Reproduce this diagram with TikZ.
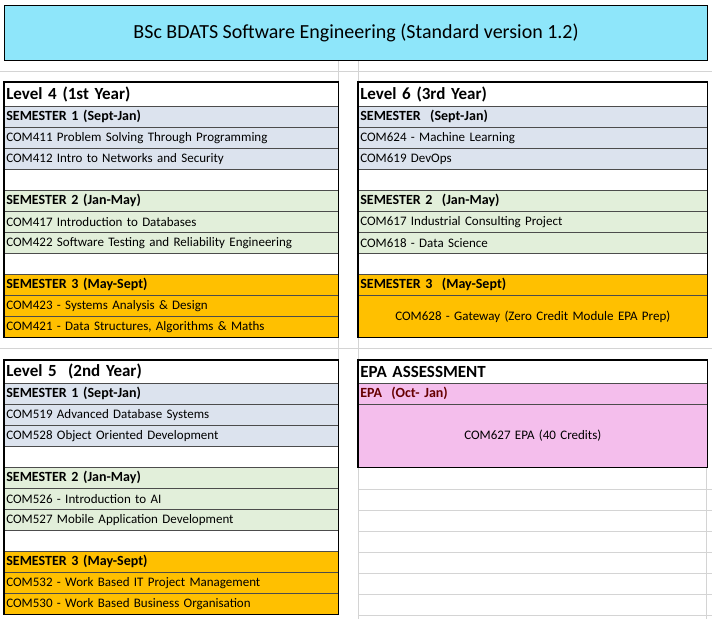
\documentclass[tikz,border=0pt]{standalone}
\usepackage{fontspec}
\setmainfont{Carlito}
\definecolor{titlecyan}{HTML}{8EE6FA}
\definecolor{semblue}{HTML}{DCE3EE}
\definecolor{semgreen}{HTML}{E2EFDA}
\definecolor{semorange}{HTML}{FFC000}
\definecolor{epapink}{HTML}{F4BEEC}
\definecolor{gridgray}{HTML}{D4D4D4}
\tikzset{
  cellL/.style={draw=black!70, line width=0.6pt, anchor=north west, minimum width=334pt, text width=330pt,
    minimum height=21pt, inner xsep=2pt, inner ysep=0pt, align=left, font=\fontsize{13}{15}\selectfont},
  cellR/.style={cellL, minimum width=349pt, text width=345pt},
  semrow/.style={font=\fontsize{14}{16}\selectfont\bfseries},
  lvlrow/.style={minimum height=24pt, font=\fontsize{17}{19}\selectfont\bfseries},
  blockframe/.style={draw=black, line width=1.6pt},
}
\begin{document}
\begin{tikzpicture}[x=1pt,y=-1pt]
\useasboundingbox (0,0) rectangle (712,619);
% spreadsheet grid
\foreach \gy in {489,510,...,615} \draw[gridgray] (358,\gy) -- (712,\gy);
\foreach \gx in {358,706} \draw[gridgray] (\gx,468) -- (\gx,619);
\draw[gridgray] (338,60) -- (338,82) (358,60) -- (358,82) (338,337) -- (338,360) (358,337) -- (358,360);
\foreach \gy in {71,348} \draw[gridgray] (0,\gy) -- (712,\gy);
% title
\node[draw=black, line width=1.2pt, fill=titlecyan, anchor=north west, minimum width=703pt, minimum height=55pt,
  font=\fontsize{20}{24}\selectfont] (title) at (4,5) {BSc BDATS Software Engineering (Standard version 1.2)};

% Level 4
\node[cellL, lvlrow] (l4) at (4,82) {Level 4 (1st Year)};
\node[cellL, semrow, fill=semblue] (l4s1) at (4,106) {SEMESTER 1 (Sept-Jan)};
\node[cellL, fill=semblue] (com411) at (4,127) {COM411 Problem Solving Through Programming};
\node[cellL, fill=semblue] (com412) at (4,148) {COM412 Intro to Networks and Security};
\node[cellL] (l4b1) at (4,169) {};
\node[cellL, semrow, fill=semgreen] (l4s2) at (4,190) {SEMESTER 2 (Jan-May)};
\node[cellL, fill=semgreen] (com417) at (4,211) {COM417 Introduction to Databases};
\node[cellL, fill=semgreen] (com422) at (4,232) {COM422 Software Testing and Reliability Engineering};
\node[cellL] (l4b2) at (4,253) {};
\node[cellL, semrow, fill=semorange] (l4s3) at (4,274) {SEMESTER 3 (May-Sept)};
\node[cellL, fill=semorange] (com423) at (4,295) {COM423 - Systems Analysis \& Design};
\node[cellL, fill=semorange] (com421) at (4,316) {COM421 - Data Structures, Algorithms \& Maths};
\draw[blockframe] (l4.north west) rectangle (com421.south east);

% Level 5
\node[cellL, lvlrow, minimum height=23pt] (l5) at (4,360) {Level 5 \ (2nd Year)};
\node[cellL, semrow, fill=semblue] (l5s1) at (4,383) {SEMESTER 1 (Sept-Jan)};
\node[cellL, fill=semblue] (com519) at (4,404) {COM519 Advanced Database Systems};
\node[cellL, fill=semblue] (com528) at (4,425) {COM528 Object Oriented Development};
\node[cellL] (l5b1) at (4,446) {};
\node[cellL, semrow, fill=semgreen] (l5s2) at (4,467) {SEMESTER 2 (Jan-May)};
\node[cellL, fill=semgreen] (com526) at (4,488) {COM526 - Introduction to AI};
\node[cellL, fill=semgreen] (com527) at (4,509) {COM527 Mobile Application Development};
\node[cellL] (l5b2) at (4,530) {};
\node[cellL, semrow, fill=semorange] (l5s3) at (4,551) {SEMESTER 3 (May-Sept)};
\node[cellL, fill=semorange] (com532) at (4,572) {COM532 - Work Based IT Project Management};
\node[cellL, fill=semorange] (com530) at (4,593) {COM530 - Work Based Business Organisation};
\draw[blockframe] (l5.north west) rectangle (com530.south east);

% Level 6
\node[cellR, lvlrow] (l6) at (358,82) {Level 6 (3rd Year)};
\node[cellR, semrow, fill=semblue] (l6s1) at (358,106) {SEMESTER \ (Sept-Jan)};
\node[cellR, fill=semblue] (com624) at (358,127) {COM624 - Machine Learning};
\node[cellR, fill=semblue] (com619) at (358,148) {COM619 DevOps};
\node[cellR] (l6b1) at (358,169) {};
\node[cellR, semrow, fill=semgreen] (l6s2) at (358,190) {SEMESTER 2 \ (Jan-May)};
\node[cellR, fill=semgreen] (com617) at (358,211) {COM617 Industrial Consulting Project};
\node[cellR, fill=semgreen] (com618) at (358,232) {COM618 - Data Science};
\node[cellR] (l6b2) at (358,253) {};
\node[cellR, semrow, fill=semorange] (l6s3) at (358,274) {SEMESTER 3 \ (May-Sept)};
\node[cellR, fill=semorange, minimum height=42pt, align=center] (com628) at (358,295) {COM628 - Gateway (Zero Credit Module EPA Prep)};
\draw[blockframe] (l6.north west) rectangle (com628.south east);

% EPA
\node[cellR, lvlrow, minimum height=23pt] (epa) at (358,360) {EPA ASSESSMENT};
\node[cellR, semrow, fill=epapink, text=red!40!black] (epas) at (358,383) {EPA \ (Oct- Jan)};
\node[cellR, fill=epapink, minimum height=63pt, align=center] (com627) at (358,404) {COM627 EPA (40 Credits)};
\draw[blockframe] (epa.north west) rectangle (com627.south east);
\end{tikzpicture}
\end{document}
